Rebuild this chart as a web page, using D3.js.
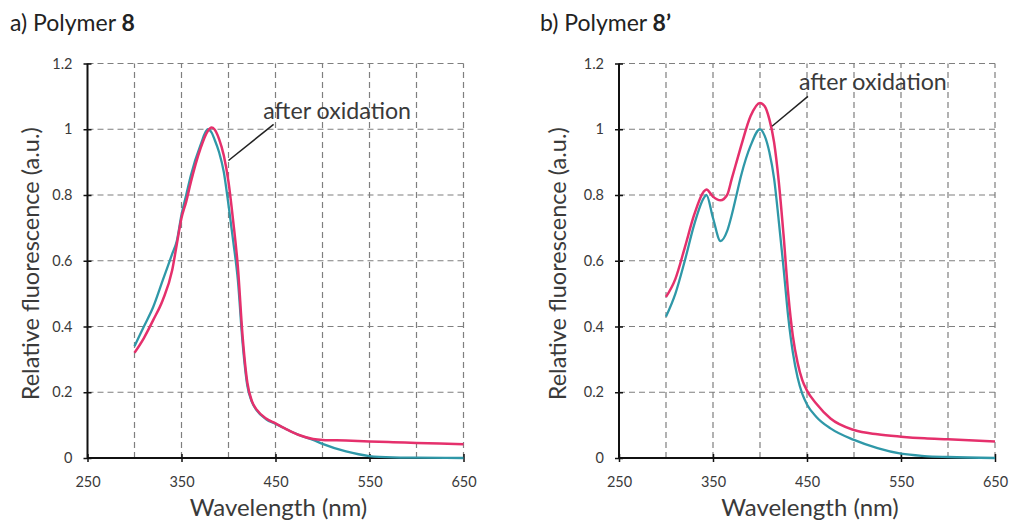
<!DOCTYPE html>
<html>
<head>
<meta charset="utf-8">
<script src="https://cdn.jsdelivr.net/npm/d3@7"></script>
<style>
  html, body { margin: 0; padding: 0; background: #fff; }
  svg { display: block; font-family: Lato, "Open Sans", sans-serif; }
</style>
</head>
<body>
<svg id="chart" width="1013" height="531"></svg>
<script>
// Emission spectra, polymer 8 (panel a)
const wavelengthsA = [300, 310, 320, 330, 340, 345, 350, 355, 360, 370, 378, 382, 385, 390, 395, 400, 405, 410, 415, 420, 425, 430, 440, 450, 460, 475, 490, 500, 525, 550, 575, 600, 650];
const beforeA      = [0.34, 0.40, 0.46, 0.54, 0.62, 0.66, 0.74, 0.80, 0.86, 0.95, 1.00, 0.99, 0.97, 0.93, 0.87, 0.77, 0.66, 0.54, 0.35, 0.22, 0.17, 0.145, 0.118, 0.104, 0.09, 0.07, 0.055, 0.043, 0.02, 0.006, 0.002, 0.001, 0.0];
const afterA       = [0.32, 0.365, 0.42, 0.48, 0.57, 0.65, 0.73, 0.78, 0.84, 0.94, 0.995, 1.005, 1.0, 0.97, 0.92, 0.84, 0.72, 0.58, 0.37, 0.23, 0.172, 0.147, 0.12, 0.105, 0.09, 0.07, 0.058, 0.055, 0.053, 0.05, 0.048, 0.046, 0.042];

// Emission spectra, polymer 8' (panel b)
const wavelengthsB = [300, 310, 320, 330, 340, 343, 350, 358, 365, 370, 375, 380, 390, 400, 405, 410, 415, 420, 425, 430, 435, 440, 445, 450, 460, 475, 500, 525, 550, 575, 600, 650];
const beforeB      = [0.43, 0.50, 0.60, 0.71, 0.79, 0.80, 0.73, 0.66, 0.69, 0.74, 0.80, 0.86, 0.95, 1.0, 0.98, 0.93, 0.85, 0.72, 0.58, 0.43, 0.32, 0.245, 0.195, 0.163, 0.125, 0.09, 0.055, 0.03, 0.013, 0.006, 0.003, 0.0];
const afterB       = [0.49, 0.545, 0.64, 0.74, 0.81, 0.817, 0.795, 0.784, 0.80, 0.85, 0.90, 0.95, 1.04, 1.08, 1.07, 1.03, 0.96, 0.84, 0.68, 0.50, 0.37, 0.29, 0.237, 0.205, 0.165, 0.12, 0.085, 0.072, 0.065, 0.06, 0.057, 0.05];

// Axis ticks and grid positions
const xTicks = [250, 350, 450, 550, 650];
const xGrid  = [300, 350, 400, 450, 500, 550, 600, 650];
const yTicks = [0, 0.2, 0.4, 0.6, 0.8, 1, 1.2];

const panels = [
  { title: "a) Polymer ", bold: "8",  left: 87.5, titleX: 10, yTitleX: 31, wl: wavelengthsA, before: beforeA, after: afterA,
    note: { text: [437, 1.032], from: [448, 1.015], to: [400, 0.905] } },
  { title: "b) Polymer ", bold: "8\u2019", left: 619, titleX: 540, yTitleX: 558, wl: wavelengthsB, before: beforeB, after: afterB,
    note: { text: [441.5, 1.12], from: [451, 1.10], to: [412.8, 1.009] } }
];

const plotW = 376, plotTop = 63.5, plotBottom = 458;
const svg = d3.select("#chart");

const TEAL = "#2f98a8", PINK = "#e5306c", GRID = "#7f7f7f", INK = "#3a3a3a";

panels.forEach(p => {
  const x = d3.scaleLinear().domain([250, 650]).range([p.left, p.left + plotW]);
  const y = d3.scaleLinear().domain([0, 1.2]).range([plotBottom, plotTop]);
  const g = svg.append("g");

  // panel title
  const t = g.append("text")
    .attr("x", p.titleX).attr("y", 31)
    .attr("font-size", 23).attr("fill", "#222");
  t.append("tspan").text(p.title);
  t.append("tspan").attr("font-weight", "bold").text(p.bold);

  // dashed grid
  g.append("g").selectAll("line").data(yTicks.filter(d => d > 0)).join("line")
    .attr("x1", x(250)).attr("x2", x(650))
    .attr("y1", d => y(d)).attr("y2", d => y(d))
    .attr("stroke", GRID).attr("stroke-width", 1.2).attr("stroke-dasharray", "6,4");
  g.append("g").selectAll("line").data(xGrid).join("line")
    .attr("x1", d => x(d)).attr("x2", d => x(d))
    .attr("y1", y(0)).attr("y2", y(1.2))
    .attr("stroke", GRID).attr("stroke-width", 1.2).attr("stroke-dasharray", "6,4");

  // y axis: solid line, ticks crossing the line
  const yAxis = g.append("g").attr("transform", `translate(${x(250)},0)`)
    .call(d3.axisLeft(y).tickValues(yTicks).tickSize(4).tickFormat(d3.format("~g")));
  yAxis.select(".domain").attr("stroke", "#111").attr("stroke-width", 2).attr("d", `M0,${y(0)}V${y(1.2)}`);
  yAxis.selectAll(".tick line").attr("x1", 4).attr("x2", -4).attr("stroke", "#111").attr("stroke-width", 1.5);
  yAxis.selectAll(".tick text").attr("x", -15).attr("font-size", 14.5).attr("fill", INK)
    .attr("font-family", "Lato, sans-serif");

  // x axis
  const xAxis = g.append("g").attr("transform", `translate(0,${y(0)})`)
    .call(d3.axisBottom(x).tickValues(xTicks).tickSize(4).tickFormat(d3.format("d")));
  xAxis.select(".domain").attr("stroke", "#111").attr("stroke-width", 2).attr("d", `M${x(250)},0H${x(650)}`);
  xAxis.selectAll(".tick line").attr("y1", -4).attr("y2", 4).attr("stroke", "#111").attr("stroke-width", 1.5);
  xAxis.selectAll(".tick text").attr("y", 19).attr("font-size", 14.5).attr("fill", INK)
    .attr("font-family", "Lato, sans-serif");

  // axis titles
  g.append("text")
    .attr("x", (x(250) + x(650)) / 2 + 3).attr("y", 516)
    .attr("text-anchor", "middle").attr("font-size", 24).attr("fill", INK)
    .text("Wavelength (nm)");
  g.append("text")
    .attr("transform", `translate(${p.yTitleX + 8},${(plotTop + plotBottom) / 2 + 3}) rotate(-90)`)
    .attr("text-anchor", "middle").attr("font-size", 23.5).attr("fill", INK)
    .text("Relative fluorescence (a.u.)");

  // spectra
  const line = arr => d3.line()
    .x((d, i) => x(p.wl[i]))
    .y(d => y(d))
    .curve(d3.curveMonotoneX)(arr);
  g.append("path").attr("d", line(p.before)).attr("fill", "none")
    .attr("stroke", TEAL).attr("stroke-width", 2.3);
  g.append("path").attr("d", line(p.after)).attr("fill", "none")
    .attr("stroke", PINK).attr("stroke-width", 2.5);

  // annotation
  g.append("line")
    .attr("x1", x(p.note.from[0])).attr("y1", y(p.note.from[1]))
    .attr("x2", x(p.note.to[0])).attr("y2", y(p.note.to[1]))
    .attr("stroke", "#222").attr("stroke-width", 1.5);
  g.append("text")
    .attr("x", x(p.note.text[0])).attr("y", y(p.note.text[1]))
    .attr("font-size", 23.2).attr("fill", INK)
    .text("after oxidation");
});
</script>
</body>
</html>
